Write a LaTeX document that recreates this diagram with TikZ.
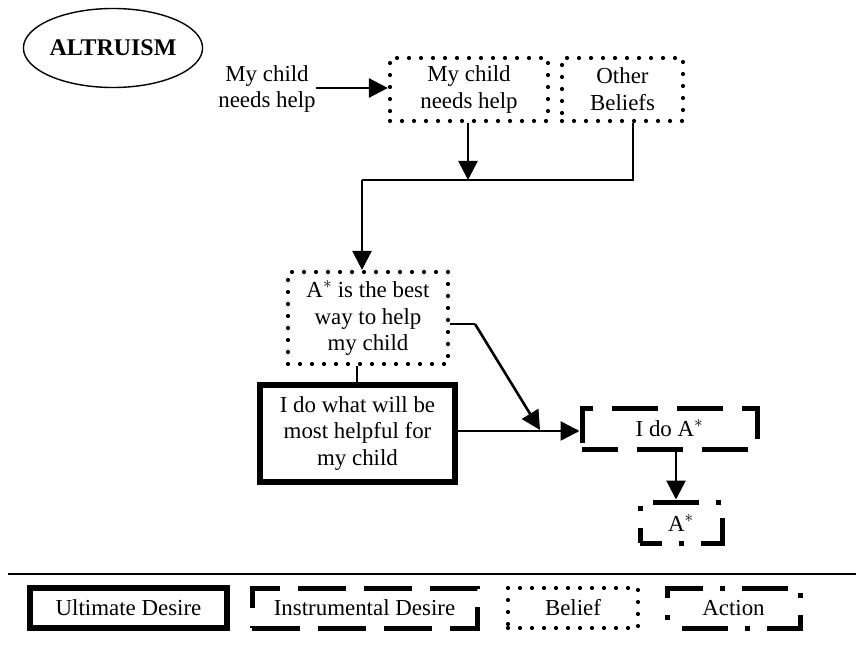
\documentclass[tikz,border=0pt]{standalone}
\usepackage{fontspec}
\setmainfont{Liberation Serif}
\usetikzlibrary{shapes.geometric,arrows.meta,calc}
\begin{document}
\begin{tikzpicture}[x=1bp,y=-1bp,
  every node/.style={font=\fontsize{23}{27}\selectfont, align=center, inner sep=0pt},
  belief/.style={draw, rectangle, line width=4.2bp, line cap=round, dash pattern=on 0bp off 12bp},
  ultimate/.style={draw, rectangle, line width=5.5bp},
  instr/.style={draw, rectangle, line width=5bp, dash pattern=on 46bp off 19bp, dash phase=10bp},
  actionbox/.style={draw, rectangle, line width=5bp, dash pattern=on 46bp off 17bp on 5bp off 17bp, dash phase=70bp},
  conn/.style={line width=2.6bp},
  arr/.style={conn, -{Triangle[length=19bp,width=19bp]}}
]
\useasboundingbox (0,0) rectangle (856,650);

\node[draw, ellipse, line width=1.4bp, minimum width=151bp, minimum height=79bp, font=\fontsize{24}{27}\selectfont\bfseries] (alt) at (113,48) {ALTRUISM};

\node (in) at (267,89) {My child\\needs help};
\node[belief, minimum width=158bp, minimum height=63bp] (b1) at (469,89.5) {My child\\needs help};
\node[belief, minimum width=121bp, minimum height=63bp] (b2) at (622.5,89.5) {Other\\Beliefs};
\node[belief, minimum width=160bp, minimum height=92bp] (b3) at (368,318) {A$^*$ is the best\\way to help\\my child};
\node[ultimate, minimum width=195bp, minimum height=97bp] (ud) at (357.5,433.5) {I do what will be\\most helpful for\\my child};
\node[instr, minimum width=175bp, minimum height=41bp] (id) at (669.5,428.5) {I do A$^*$};
\node[actionbox, dash phase=24bp, minimum width=82bp, minimum height=41bp] (act) at (681,522.5) {A$^*$};

\coordinate (j1) at (468,180);
\coordinate (j2) at (633,180);
\coordinate (j3) at (362,180);
\coordinate (k1) at (475,324);
\coordinate (k2) at (540,430);

\draw[arr] (in.east |- 0,88) -- (b1.west |- 0,88);
\draw[arr] (b1.south -| j1) -- (j1);
\draw[conn] (b2.south -| j2) -- (j2) -- (j3);
\draw[arr] (j3) -- (b3.north -| j3);
\draw[conn] (b3.south -| 357,0) -- (ud.north -| 357,0);
\draw[conn] (b3.east |- k1) -- (k1);
\draw[arr] (k1) -- (k2);
\draw[arr] (ud.east |- 0,431) -- (id.west |- 0,431);
\draw[arr] (id.south -| 676,0) -- (act.north -| 676,0);

\coordinate (la) at (8,574);
\coordinate (lb) at (856,574);
\draw[line width=2bp] (la) -- (lb);

\node[ultimate, minimum width=197bp, minimum height=40bp] (l1) at (128.5,608) {Ultimate Desire};
\node[instr, dash pattern=on 48bp off 18bp, dash phase=0bp, minimum width=225bp, minimum height=40bp] (l2) at (364.5,608) {Instrumental Desire};
\node[belief, minimum width=130bp, minimum height=40bp] (l3) at (573,608) {Belief};
\node[actionbox, minimum width=133bp, minimum height=40bp] (l4) at (733.5,608) {Action};
\end{tikzpicture}
\end{document}
